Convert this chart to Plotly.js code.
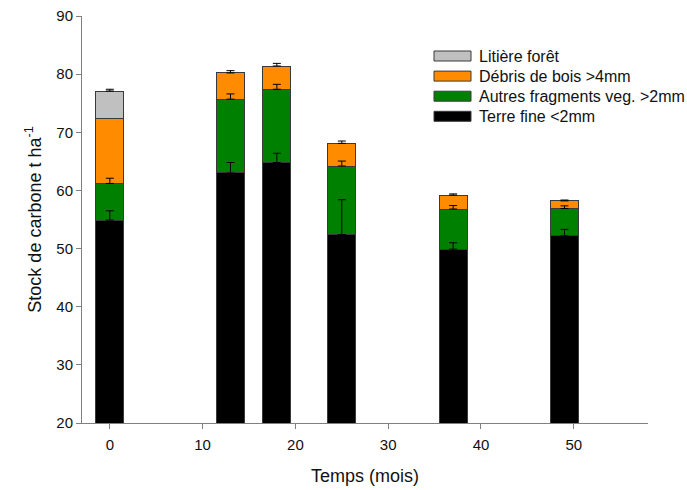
<!DOCTYPE html>
<html>
<head>
<meta charset="utf-8">
<script src="https://cdn.plot.ly/plotly-3.0.1.min.js"></script>
<style>
html,body{margin:0;padding:0;background:#fff;}
#chart{width:687px;height:490px;}
</style>
</head>
<body>
<div id="chart"></div>
<script>
// Time (months)
var months = [0, 13, 18, 25, 37, 49];

// Series values (t C / ha)
var terreFine   = [54.9, 63.0, 64.8, 52.4, 49.9, 52.2];
var autresFrag  = [6.3, 12.7, 12.6, 11.8, 6.9, 4.7];
var debrisBois  = [11.1, 4.5, 4.0, 3.9, 2.4, 1.3];
var litiere     = [4.8, null, null, null, null, null];

// Error values (upper)
var errTerre   = [1.6, 1.8, 1.6, 6.0, 1.1, 1.1];
var errAutres  = [0.9, 0.9, 0.85, 0.85, 0.6, 0.45];
var errDebris  = [null, 0.4, 0.45, 0.4, 0.2, 0.15];
var errLitiere = [0.3, null, null, null, null, null];

var seriesNames = ["Terre fine <2mm", "Autres fragments veg. >2mm", "Débris de bois >4mm", "Litière forêt"];
var seriesColors = ["#000000", "#008000", "#FF8C00", "#C0C0C0"];
var seriesValues = [terreFine, autresFrag, debrisBois, litiere];
var seriesErrors = [errTerre, errAutres, errDebris, errLitiere];

var xTicks = [0, 10, 20, 30, 40, 50];

var FONT = 'Liberation Sans, Arial, sans-serif';

var traces = seriesValues.map(function(vals, i){
  return {
    type: 'bar',
    x: months,
    y: vals,
    name: seriesNames[i],
    width: 3,
    marker: {color: seriesColors[i], line: {color: '#3a3a3a', width: 1}},
    showlegend: false,
    hoverinfo: 'x+y+name'
  };
});

// error bars drawn on top of the stack (cumulative tops)
var cum = months.map(function(){ return 0; });
seriesValues.forEach(function(vals, i){
  var tops = [], errs = [];
  vals.forEach(function(v, j){
    if (v === null) { tops.push(null); errs.push(null); return; }
    cum[j] += v;
    var e = seriesErrors[i][j];
    tops.push(e === null ? null : cum[j]);
    errs.push(e);
  });
  traces.push({
    type: 'scatter',
    mode: 'markers',
    x: months,
    y: tops,
    marker: {opacity: 0, size: 1},
    showlegend: false,
    hoverinfo: 'skip',
    error_y: {
      type: 'data',
      symmetric: false,
      array: errs,
      arrayminus: errs.map(function(){ return 0; }),
      color: '#000000',
      thickness: 1,
      width: 4
    }
  });
});

var axisCommon = {
  showline: true,
  linecolor: '#808080',
  linewidth: 1,
  ticks: 'outside',
  ticklen: 5,
  tickcolor: '#808080',
  showgrid: false,
  zeroline: false,
  tickfont: {family: FONT, size: 15, color: '#111'}
};

var W = 687, H = 490;
var M = {l: 82, r: 39, t: 16, b: 67};
var plotW = W - M.l - M.r, plotH = H - M.t - M.b;
function px2x(px){ return (px - M.l) / plotW; }
function py2y(py){ return 1 - (py - M.t) / plotH; }

// custom legend (top-most entry first)
var legendOrder = [3, 2, 1, 0];
var shapes = [], annotations = [];
legendOrder.forEach(function(si, k){
  var cy = 56 + k * 20.1;
  shapes.push({
    type: 'rect', xref: 'paper', yref: 'paper',
    x0: px2x(434), x1: px2x(471), y0: py2y(cy + 5), y1: py2y(cy - 5),
    fillcolor: seriesColors[si], line: {color: '#3a3a3a', width: 1}
  });
  annotations.push({
    xref: 'paper', yref: 'paper', x: px2x(477), y: py2y(cy),
    xanchor: 'left', yanchor: 'middle', showarrow: false,
    text: seriesNames[si], font: {family: FONT, size: 16, color: '#111'}
  });
});

var layout = {
  width: W,
  height: H,
  margin: M,
  paper_bgcolor: '#ffffff',
  plot_bgcolor: '#ffffff',
  barmode: 'stack',
  font: {family: FONT, color: '#111'},
  showlegend: false,
  xaxis: Object.assign({}, axisCommon, {
    range: [-3, 58],
    tickvals: xTicks,
    ticktext: xTicks.map(String),
    ticklabelstandoff: 3,
    title: {text: 'Temps (mois)', font: {size: 18, color: '#111'}, standoff: 17}
  }),
  yaxis: Object.assign({}, axisCommon, {
    range: [20, 90],
    dtick: 10,
    title: {text: 'Stock de carbone t ha<sup>-1</sup>', font: {size: 18, color: '#111'}, standoff: 10}
  }),
  shapes: shapes,
  annotations: annotations
};

Plotly.newPlot('chart', traces, layout, {displayModeBar: false, staticPlot: true});
</script>
</body>
</html>
